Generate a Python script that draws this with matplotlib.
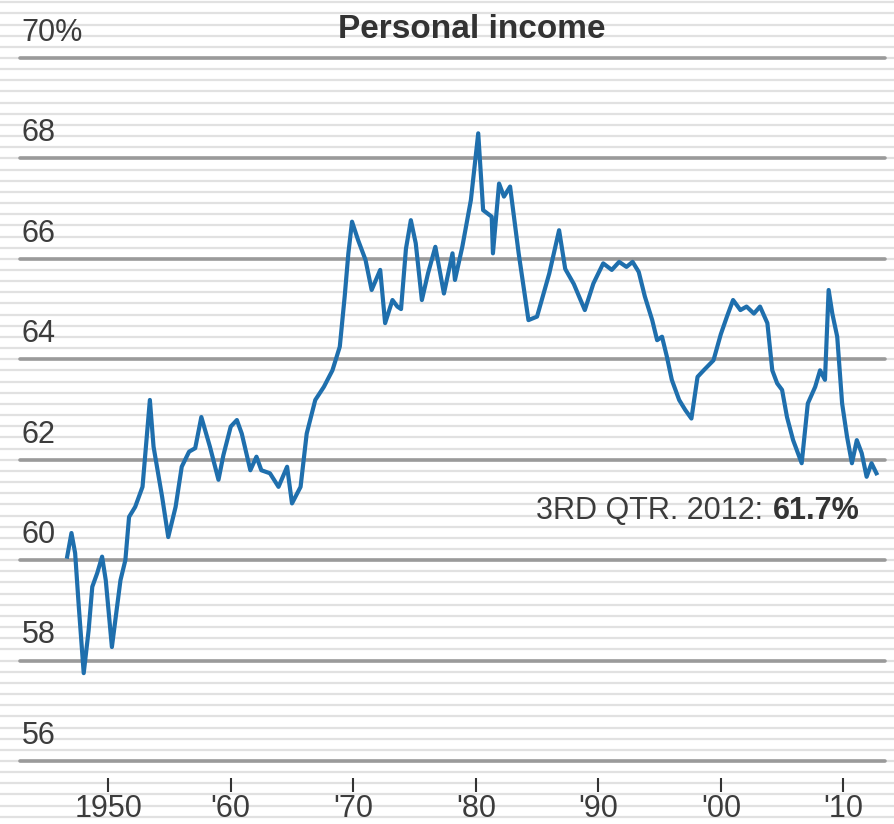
import numpy as np
import matplotlib
matplotlib.use("Agg")
import matplotlib.pyplot as plt
import matplotlib.transforms as mtransforms

plt.rcParams['font.family'] = ['Liberation Sans', 'DejaVu Sans']

# Datos (share of personal income, %)
years = [1946.65, 1947.0, 1947.3, 1947.6, 1948.0, 1948.4, 1948.7, 1949.1, 1949.5, 1949.8,
         1950.3, 1951.0, 1951.4, 1951.7, 1952.2, 1952.8, 1953.4, 1953.7, 1954.4, 1954.9,
         1955.5, 1956.0, 1956.6, 1957.1, 1957.6, 1958.3, 1959.0, 1959.4, 1960.0, 1960.5,
         1960.9, 1961.6, 1962.1, 1962.5, 1963.2, 1963.9, 1964.6, 1965.0, 1965.7, 1966.2,
         1966.9, 1967.6, 1968.3, 1968.9, 1969.3, 1969.6, 1969.9, 1970.4, 1971.0, 1971.5,
         1972.2, 1972.6, 1973.2, 1973.6, 1973.9, 1974.3, 1974.7, 1975.1, 1975.6, 1976.1,
         1976.7, 1977.4, 1978.1, 1978.3, 1978.9, 1979.6, 1980.2, 1980.6, 1981.3, 1981.4,
         1981.9, 1982.3, 1982.8, 1983.5, 1984.3, 1985.0, 1986.0, 1986.8, 1987.3, 1988.0,
         1988.9, 1989.6, 1990.4, 1991.1, 1991.7, 1992.3, 1992.8, 1993.3, 1993.8, 1994.4,
         1994.8, 1995.2, 1995.6, 1996.0, 1996.6, 1997.1, 1997.6, 1998.1, 1998.6, 1999.4,
         2000.0, 2000.5, 2001.0, 2001.6, 2002.1, 2002.7, 2003.2, 2003.8, 2004.2, 2004.6,
         2005.0, 2005.4, 2005.9, 2006.6, 2007.1, 2007.7, 2008.1, 2008.5, 2008.8, 2009.1,
         2009.5, 2009.9, 2010.3, 2010.7, 2011.1, 2011.5, 2011.9, 2012.3, 2012.7]
income = [60.07, 60.54, 60.14, 59.07, 57.75, 58.6, 59.47, 59.74, 60.07, 59.6,
          58.27, 59.6, 60.0, 60.86, 61.06, 61.46, 63.19, 62.26, 61.26, 60.46,
          61.06, 61.86, 62.16, 62.23, 62.85, 62.26, 61.6, 62.09, 62.66, 62.79,
          62.52, 61.79, 62.06, 61.79, 61.73, 61.46, 61.86, 61.13, 61.46, 62.52,
          63.19, 63.45, 63.78, 64.25, 65.25, 66.11, 66.74, 66.37, 65.98, 65.38,
          65.78, 64.72, 65.18, 65.05, 65.0, 66.2, 66.77, 66.31, 65.18, 65.71,
          66.24, 65.31, 66.11, 65.58, 66.24, 67.17, 68.5, 66.97, 66.84, 66.11,
          67.5, 67.24, 67.44, 66.11, 64.78, 64.85, 65.71, 66.57, 65.8, 65.5,
          64.98, 65.51, 65.91, 65.78, 65.94, 65.84, 65.94, 65.74, 65.25, 64.78,
          64.38, 64.45, 64.05, 63.59, 63.19, 62.99, 62.82, 63.65, 63.78, 63.98,
          64.5, 64.85, 65.18, 64.98, 65.05, 64.91, 65.05, 64.72, 63.78, 63.52,
          63.39, 62.85, 62.39, 61.93, 63.12, 63.45, 63.78, 63.59, 65.38, 64.91,
          64.45, 63.12, 62.46, 61.93, 62.39, 62.13, 61.66, 61.93, 61.73]

yticks = [56, 58, 60, 62, 64, 66, 68, 70]
ylabels = ["56", "58", "60", "62", "64", "66", "68", "70%"]
xticks = [1950, 1960, 1970, 1980, 1990, 2000, 2010]
xlabels = ["1950", "'60", "'70", "'80", "'90", "'00", "'10"]

W, H = 894, 824
fig = plt.figure(figsize=(W / 100, H / 100), dpi=100)
fig.patch.set_facecolor("white")

# ejes principales (en pixeles: x 20..885, y 58..761)
left, right, top, bottom = 20, 885, 58, 761
ax_pos = [left / W, (H - bottom) / H, (right - left) / W, (bottom - top) / H]
ax = fig.add_axes(ax_pos, zorder=2)
ax.patch.set_visible(False)
ax.set_xlim(1942.8, 2013.4)
ax.set_ylim(56, 70)

# rayas de fondo en toda la figura
bg = fig.add_axes([0, 0, 1, 1], zorder=0)
per_frac = 14 / ax_pos[3]
bg.set_ylim(56 - ax_pos[1] * per_frac, 56 + (1 - ax_pos[1]) * per_frac)
bg.set_xlim(0, 1)
for yy in np.arange(54, 72, 2 / 9):
    bg.axhline(yy, color="#e1e1e1", lw=1.6, zorder=0)
bg.axis("off")

# lineas de grilla principales
for t in yticks:
    ax.axhline(t, color="#9a9a9a", lw=2.6, solid_capstyle="round", clip_on=False, zorder=1)

ax.plot(years, income, color="#1f6fad", lw=3.0, solid_joinstyle="round", zorder=3, clip_on=False)

# etiquetas eje y
trans = mtransforms.blended_transform_factory(ax.transAxes, ax.transData)
for t, lab in zip(yticks, ylabels):
    ax.text(0.002, t + 0.5, lab, transform=trans, ha="left", va="center",
            fontsize=22, color="#3c3c3c")
ax.set_yticks([])

# eje x
for s in ax.spines.values():
    s.set_visible(False)
ax.spines["bottom"].set_position(("outward", 12.2))
ax.set_xticks(xticks)
ax.set_xticklabels(xlabels)
ax.tick_params(axis="x", direction="out", length=10, width=1.5, color="#333333",
               labelsize=22, labelcolor="#3c3c3c", pad=1.5)

fig.text(472 / W, 1 - 30 / H, "Personal income", ha="center", va="center",
         fontsize=24, fontweight="bold", color="#333333")

fig.text(860 / W, 1 - 511 / H, "61.7%", ha="right", va="center",
         fontsize=22, fontweight="bold", color="#333333")
fig.text(763 / W, 1 - 511 / H, "3RD QTR. 2012:", ha="right", va="center",
         fontsize=22, color="#3c3c3c")

fig.savefig("out.png", dpi=100)
